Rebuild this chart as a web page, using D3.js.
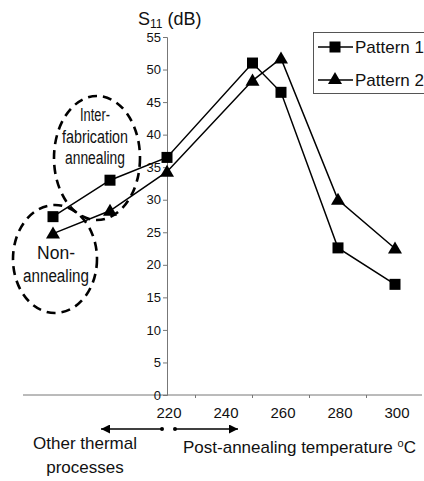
<!DOCTYPE html>
<html><head><meta charset="utf-8">
<script src="https://cdn.jsdelivr.net/npm/d3@7"></script>
<style>
html,body{margin:0;padding:0;background:#fff;}
svg{display:block;font-family:"Liberation Sans Narrow","Arial Narrow","Liberation Sans",Arial,sans-serif;}
</style></head>
<body>
<svg id="c" width="424" height="481"></svg>
<script>
// positions along the temperature axis (first two are the "other thermal processes")
const xPositions = [180, 200, 220, 250, 260, 280, 300];
const pattern1 = [27.4, 33.0, 36.5, 51.0, 46.5, 22.6, 17.0];
const pattern2 = [24.8, 28.3, 34.3, 48.3, 51.7, 30.0, 22.5];
const xTickLabels = [220, 240, 260, 280, 300];
const yTickLabels = [0, 5, 10, 15, 20, 25, 30, 35, 40, 45, 50, 55];
const seriesNames = ["Pattern 1", "Pattern 2"];

const svg = d3.select("#c");
const x = d3.scaleLinear().domain([220, 300]).range([167, 395]);
const y = d3.scaleLinear().domain([0, 55]).range([395, 37]);

// x axis line (extends left)
svg.append("line").attr("x1", 23).attr("x2", 422).attr("y1", y(0)).attr("y2", y(0))
  .attr("stroke", "#777").attr("stroke-width", 1);
// minor ticks between categories
[230, 250, 270, 290].forEach(t => {
  svg.append("line").attr("x1", x(t)).attr("x2", x(t)).attr("y1", y(0)).attr("y2", y(0) + 3)
    .attr("stroke", "#777");
});
// x tick labels
svg.selectAll("text.xt").data(xTickLabels).enter().append("text")
  .attr("class", "xt").attr("x", d => x(d) + 2).attr("y", 418)
  .attr("text-anchor", "middle").attr("font-size", 15).attr("fill", "#111").text(d => d);

// y axis
const yAxis = d3.axisLeft(y).tickValues(yTickLabels).tickSize(4).tickPadding(2);
const gy = svg.append("g").attr("transform", `translate(${x(220)},0)`).call(yAxis);
gy.select(".domain").attr("stroke", "#777");
gy.selectAll(".tick line").attr("stroke", "#777");
gy.selectAll(".tick text").attr("font-size", 13).attr("fill", "#111")
  .attr("font-family", '"Liberation Sans Narrow","Liberation Sans",Arial,sans-serif');

// title
const title = svg.append("text").attr("x", 138).attr("y", 25).attr("font-size", 18).attr("fill", "#111");
title.append("tspan").text("S");
title.append("tspan").attr("font-size", 12).attr("dy", 3).text("11");
title.append("tspan").attr("dy", -3).text(" (dB)");

// lines
const line = d3.line().x((d, i) => x(xPositions[i])).y(d => y(d));
[pattern1, pattern2].forEach(s => {
  svg.append("path").attr("d", line(s)).attr("fill", "none").attr("stroke", "#000").attr("stroke-width", 1.5);
});
// markers
const sq = 11;
svg.selectAll("rect.p1").data(pattern1).enter().append("rect")
  .attr("x", (d, i) => x(xPositions[i]) - sq / 2).attr("y", d => y(d) - sq / 2)
  .attr("width", sq).attr("height", sq).attr("fill", "#000");
const tri = d3.symbol().type(d3.symbolTriangle).size(85);
svg.selectAll("path.p2").data(pattern2).enter().append("path")
  .attr("transform", (d, i) => `translate(${x(xPositions[i])},${y(d) + 1})`)
  .attr("d", tri).attr("fill", "#000");

// ellipses
svg.append("ellipse").attr("cx", 97).attr("cy", 158).attr("rx", 43).attr("ry", 62)
  .attr("fill", "none").attr("stroke", "#000").attr("stroke-width", 2.6).attr("stroke-dasharray", "9,6");
svg.append("ellipse").attr("cx", 55).attr("cy", 259).attr("rx", 42).attr("ry", 54)
  .attr("fill", "none").attr("stroke", "#000").attr("stroke-width", 2.6).attr("stroke-dasharray", "9,6");

function lines(arr, cx, ys, widths) {
  arr.forEach((t, i) => svg.append("text").attr("x", cx).attr("y", ys[i])
    .attr("text-anchor", "middle").attr("font-size", 18).attr("fill", "#111")
    .attr("textLength", widths[i]).attr("lengthAdjust", "spacingAndGlyphs").text(t));
}
lines(["Inter-", "fabrication", "annealing"], 95, [121, 143, 164], [30, 66, 60]);
lines(["Non-", "annealing"], 56, [259, 282], [38, 66]);

// arrows
const defs = svg.append("defs");
defs.append("marker").attr("id", "ah").attr("viewBox", "0 0 10 10").attr("refX", 10).attr("refY", 5)
  .attr("markerWidth", 14).attr("markerHeight", 9).attr("markerUnits", "userSpaceOnUse").attr("orient", "auto")
  .append("path").attr("d", "M0,0 L10,5 L0,10 Z").attr("fill", "#000");
const ay = 429;
svg.append("line").attr("x1", 162).attr("x2", 101).attr("y1", ay).attr("y2", ay)
  .attr("stroke", "#000").attr("stroke-width", 1.5).attr("marker-end", "url(#ah)");
svg.append("line").attr("x1", 175).attr("x2", 238).attr("y1", ay).attr("y2", ay)
  .attr("stroke", "#000").attr("stroke-width", 1.5).attr("marker-end", "url(#ah)");
[162, 175].forEach(cx => svg.append("circle").attr("cx", cx).attr("cy", ay).attr("r", 2).attr("fill", "#000"));

svg.append("text").attr("x", 85).attr("y", 449).attr("text-anchor", "middle").attr("font-size", 17).attr("fill", "#111").text("Other thermal");
svg.append("text").attr("x", 85).attr("y", 473).attr("text-anchor", "middle").attr("font-size", 17).attr("fill", "#111").text("processes");
const xl = svg.append("text").attr("x", 183).attr("y", 453).attr("font-size", 17).attr("fill", "#111");
xl.append("tspan").text("Post-annealing temperature ");
xl.append("tspan").attr("font-size", 11).attr("dy", -6).text("o");
xl.append("tspan").attr("dy", 6).text("C");

// legend
const lg = svg.append("g");
lg.append("rect").attr("x", 313.5).attr("y", 32.5).attr("width", 115).attr("height", 61)
  .attr("fill", "#fff").attr("stroke", "#555");
seriesNames.forEach((n, i) => {
  const ly = 47 + i * 33;
  lg.append("line").attr("x1", 318).attr("x2", 353).attr("y1", ly).attr("y2", ly).attr("stroke", "#000").attr("stroke-width", 1.5);
  if (i === 0) lg.append("rect").attr("x", 335 - sq / 2).attr("y", ly - sq / 2).attr("width", sq).attr("height", sq).attr("fill", "#000");
  else lg.append("path").attr("transform", `translate(335,${ly})`).attr("d", tri).attr("fill", "#000");
  lg.append("text").attr("x", 355).attr("y", ly + 6).attr("font-size", 17).attr("fill", "#111").text(n);
});
</script>
</body></html>
